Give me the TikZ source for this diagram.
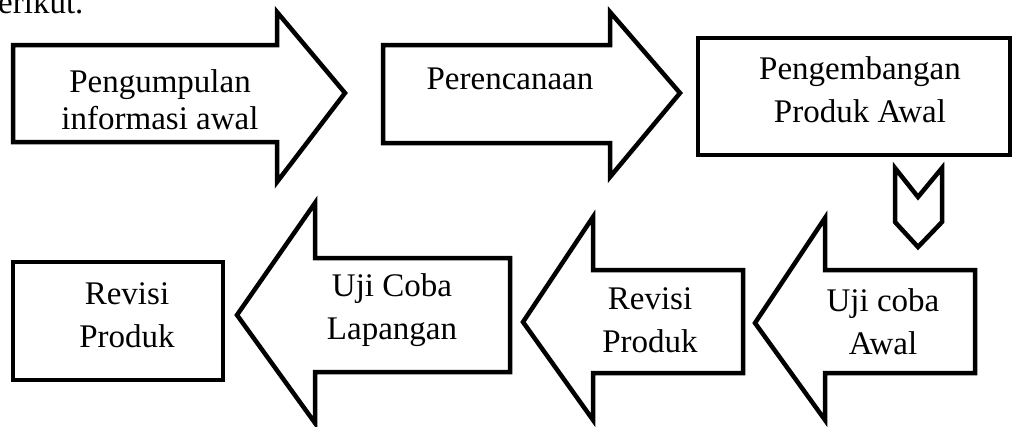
\documentclass[tikz,border=0pt]{standalone}
\usepackage{fontspec}
\setmainfont{Liberation Serif}
\begin{document}
\begin{tikzpicture}[x=1pt, y=-1pt,
    outline/.style={line width=4.5pt, line join=miter},
    caption/.style={align=center, inner sep=0pt,
      font=\fontsize{33}{37}\selectfont},
    wide/.style={font=\fontsize{33}{43}\selectfont}]
      \useasboundingbox (0,0) rectangle (1015,426);

      % Cut-off line of the page above
      \node[anchor=base west, inner sep=0pt, font=\fontsize{33}{37}\selectfont]
        (prevline) at (-2,13) {erikut.};

      % Top row: right arrows and box
      \draw[outline] (13,45) -- (277,45) -- (277,12) -- (345,93)
        -- (277,182) -- (277,142) -- (13,142) -- cycle;
      \node[caption] (info) at (160,100) {Pengumpulan\\informasi awal};

      \draw[outline] (383,45) -- (610,45) -- (610,12) -- (680,93)
        -- (610,177) -- (610,143) -- (383,143) -- cycle;
      \node[caption] (plan) at (510,79) {Perencanaan};

      \draw[outline] (698,38) rectangle (1010,155);
      \node[caption, wide] (dev) at (860,90) {Pengembangan\\Produk Awal};

      % Down chevron
      \draw[outline] (895,168) -- (918,197) -- (942,168) -- (942,222)
        -- (918,247) -- (895,222) -- cycle;

      % Bottom row: left arrows and box
      \draw[outline] (975,270) -- (825,270) -- (825,218) -- (755,323)
        -- (825,420) -- (825,373) -- (975,373) -- cycle;
      \node[caption, wide] (trial) at (883,322) {Uji coba\\Awal};

      \draw[outline] (743,270) -- (593,270) -- (593,217) -- (523,322)
        -- (593,420) -- (593,373) -- (743,373) -- cycle;
      \node[caption, wide] (rev1) at (650,320) {Revisi\\Produk};

      \draw[outline] (510,258) -- (315,258) -- (315,203) -- (237,315)
        -- (315,423) -- (315,372) -- (510,372) -- cycle;
      \node[caption, wide] (field) at (392,310) {Uji Coba\\Lapangan};

      \draw[outline] (13,262) rectangle (223,380);
      \node[caption, wide] (rev2) at (127,315) {Revisi\\Produk};
    \end{tikzpicture}
\end{document}
